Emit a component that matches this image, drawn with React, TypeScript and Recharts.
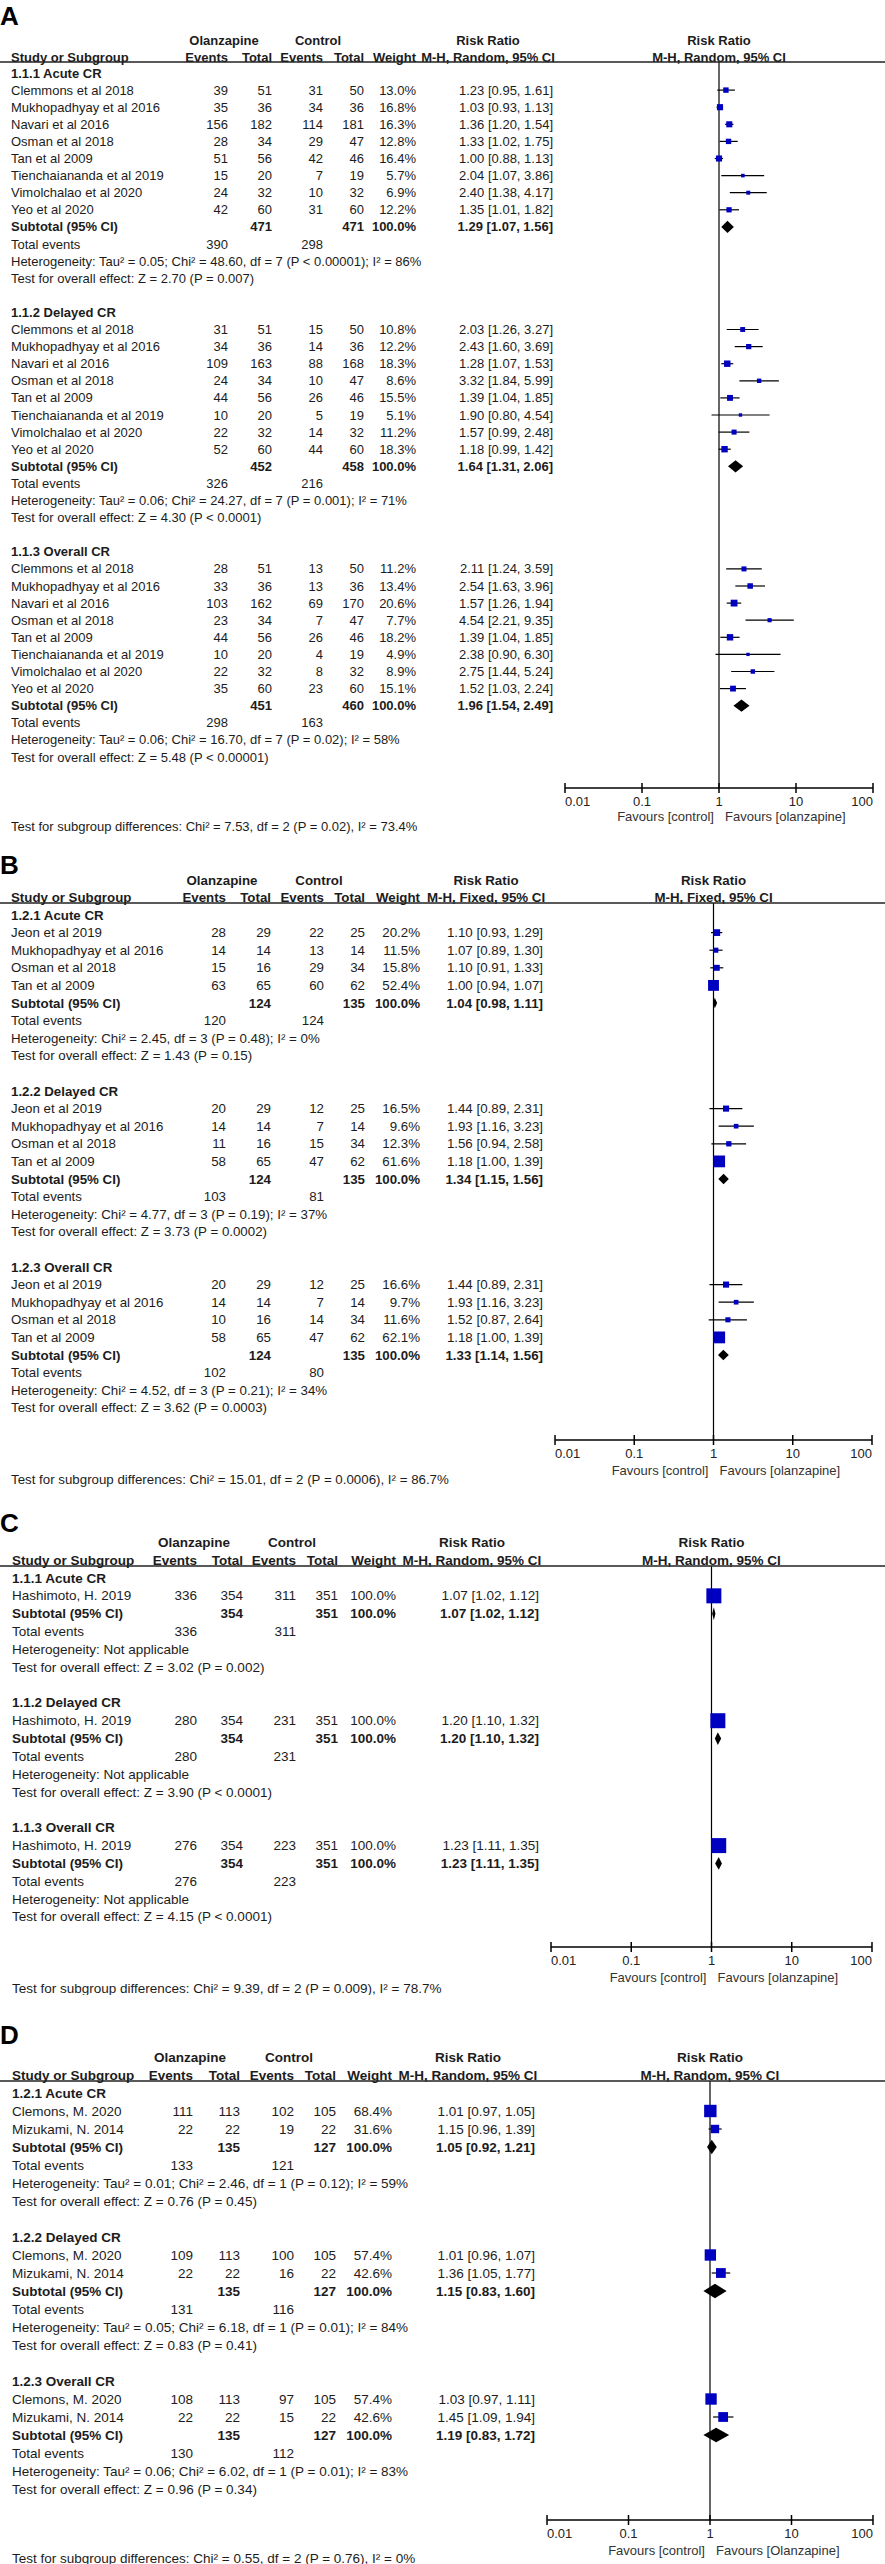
import React from "react";
import {
  ScatterChart,
  Scatter,
  XAxis,
  YAxis,
  ErrorBar,
  ReferenceLine,
  ReferenceArea,
} from "recharts";

const FONT = "Arial, 'Liberation Sans', Helvetica, sans-serif";
const INK = "#1c1c1c";
const BLUE = "#0000c0";

const RR_TICKS = [0.01, 0.1, 1, 10, 100];
const RR_TICK_LABELS = ["0.01", "0.1", "1", "10", "100"];

// study row: [olz events, olz total, ctl events, ctl total, weight %, RR, CI low, CI high]
// subtotal: [olz total, ctl total, RR, CI low, CI high]

// ---------- A ----------
const STUDIES_A = [
  "Clemmons et al 2018",
  "Mukhopadhyay et al 2016",
  "Navari et al 2016",
  "Osman et al 2018",
  "Tan et al 2009",
  "Tienchaiananda et al 2019",
  "Vimolchalao et al 2020",
  "Yeo et al 2020",
];
const GROUPS_A = ["1.1.1 Acute CR", "1.1.2 Delayed CR", "1.1.3 Overall CR"];
const ACUTE_A = [
  [39, 51, 31, 50, 13.0, 1.23, 0.95, 1.61],
  [35, 36, 34, 36, 16.8, 1.03, 0.93, 1.13],
  [156, 182, 114, 181, 16.3, 1.36, 1.2, 1.54],
  [28, 34, 29, 47, 12.8, 1.33, 1.02, 1.75],
  [51, 56, 42, 46, 16.4, 1.0, 0.88, 1.13],
  [15, 20, 7, 19, 5.7, 2.04, 1.07, 3.86],
  [24, 32, 10, 32, 6.9, 2.4, 1.38, 4.17],
  [42, 60, 31, 60, 12.2, 1.35, 1.01, 1.82],
];
const DELAYED_A = [
  [31, 51, 15, 50, 10.8, 2.03, 1.26, 3.27],
  [34, 36, 14, 36, 12.2, 2.43, 1.6, 3.69],
  [109, 163, 88, 168, 18.3, 1.28, 1.07, 1.53],
  [24, 34, 10, 47, 8.6, 3.32, 1.84, 5.99],
  [44, 56, 26, 46, 15.5, 1.39, 1.04, 1.85],
  [10, 20, 5, 19, 5.1, 1.9, 0.8, 4.54],
  [22, 32, 14, 32, 11.2, 1.57, 0.99, 2.48],
  [52, 60, 44, 60, 18.3, 1.18, 0.99, 1.42],
];
const OVERALL_A = [
  [28, 51, 13, 50, 11.2, 2.11, 1.24, 3.59],
  [33, 36, 13, 36, 13.4, 2.54, 1.63, 3.96],
  [103, 162, 69, 170, 20.6, 1.57, 1.26, 1.94],
  [23, 34, 7, 47, 7.7, 4.54, 2.21, 9.35],
  [44, 56, 26, 46, 18.2, 1.39, 1.04, 1.85],
  [10, 20, 4, 19, 4.9, 2.38, 0.9, 6.3],
  [22, 32, 8, 32, 8.9, 2.75, 1.44, 5.24],
  [35, 60, 23, 60, 15.1, 1.52, 1.03, 2.24],
];
const SUBTOTALS_A = [
  [471, 471, 1.29, 1.07, 1.56],
  [452, 458, 1.64, 1.31, 2.06],
  [451, 460, 1.96, 1.54, 2.49],
];
const TOTAL_EVENTS_A = [[390, 298], [326, 216], [298, 163]];
const HET_A = [
  "Heterogeneity: Tau² = 0.05; Chi² = 48.60, df = 7 (P < 0.00001); I² = 86%",
  "Heterogeneity: Tau² = 0.06; Chi² = 24.27, df = 7 (P = 0.001); I² = 71%",
  "Heterogeneity: Tau² = 0.06; Chi² = 16.70, df = 7 (P = 0.02); I² = 58%",
];
const EFFECT_A = [
  "Test for overall effect: Z = 2.70 (P = 0.007)",
  "Test for overall effect: Z = 4.30 (P < 0.0001)",
  "Test for overall effect: Z = 5.48 (P < 0.00001)",
];
const DIFF_A = "Test for subgroup differences: Chi² = 7.53, df = 2 (P = 0.02), I² = 73.4%";

// ---------- B ----------
const STUDIES_B = ["Jeon et al 2019", "Mukhopadhyay et al 2016", "Osman et al 2018", "Tan et al 2009"];
const GROUPS_B = ["1.2.1 Acute CR", "1.2.2 Delayed CR", "1.2.3 Overall CR"];
const ACUTE_B = [
  [28, 29, 22, 25, 20.2, 1.1, 0.93, 1.29],
  [14, 14, 13, 14, 11.5, 1.07, 0.89, 1.3],
  [15, 16, 29, 34, 15.8, 1.1, 0.91, 1.33],
  [63, 65, 60, 62, 52.4, 1.0, 0.94, 1.07],
];
const DELAYED_B = [
  [20, 29, 12, 25, 16.5, 1.44, 0.89, 2.31],
  [14, 14, 7, 14, 9.6, 1.93, 1.16, 3.23],
  [11, 16, 15, 34, 12.3, 1.56, 0.94, 2.58],
  [58, 65, 47, 62, 61.6, 1.18, 1.0, 1.39],
];
const OVERALL_B = [
  [20, 29, 12, 25, 16.6, 1.44, 0.89, 2.31],
  [14, 14, 7, 14, 9.7, 1.93, 1.16, 3.23],
  [10, 16, 14, 34, 11.6, 1.52, 0.87, 2.64],
  [58, 65, 47, 62, 62.1, 1.18, 1.0, 1.39],
];
const SUBTOTALS_B = [
  [124, 135, 1.04, 0.98, 1.11],
  [124, 135, 1.34, 1.15, 1.56],
  [124, 135, 1.33, 1.14, 1.56],
];
const TOTAL_EVENTS_B = [[120, 124], [103, 81], [102, 80]];
const HET_B = [
  "Heterogeneity: Chi² = 2.45, df = 3 (P = 0.48); I² = 0%",
  "Heterogeneity: Chi² = 4.77, df = 3 (P = 0.19); I² = 37%",
  "Heterogeneity: Chi² = 4.52, df = 3 (P = 0.21); I² = 34%",
];
const EFFECT_B = [
  "Test for overall effect: Z = 1.43 (P = 0.15)",
  "Test for overall effect: Z = 3.73 (P = 0.0002)",
  "Test for overall effect: Z = 3.62 (P = 0.0003)",
];
const DIFF_B = "Test for subgroup differences: Chi² = 15.01, df = 2 (P = 0.0006), I² = 86.7%";

// ---------- C ----------
const STUDIES_C = ["Hashimoto, H. 2019"];
const GROUPS_C = ["1.1.1 Acute CR", "1.1.2 Delayed CR", "1.1.3 Overall CR"];
const ACUTE_C = [[336, 354, 311, 351, 100.0, 1.07, 1.02, 1.12]];
const DELAYED_C = [[280, 354, 231, 351, 100.0, 1.2, 1.1, 1.32]];
const OVERALL_C = [[276, 354, 223, 351, 100.0, 1.23, 1.11, 1.35]];
const SUBTOTALS_C = [
  [354, 351, 1.07, 1.02, 1.12],
  [354, 351, 1.2, 1.1, 1.32],
  [354, 351, 1.23, 1.11, 1.35],
];
const TOTAL_EVENTS_C = [[336, 311], [280, 231], [276, 223]];
const HET_C = [
  "Heterogeneity: Not applicable",
  "Heterogeneity: Not applicable",
  "Heterogeneity: Not applicable",
];
const EFFECT_C = [
  "Test for overall effect: Z = 3.02 (P = 0.002)",
  "Test for overall effect: Z = 3.90 (P < 0.0001)",
  "Test for overall effect: Z = 4.15 (P < 0.0001)",
];
const DIFF_C = "Test for subgroup differences: Chi² = 9.39, df = 2 (P = 0.009), I² = 78.7%";

// ---------- D ----------
const STUDIES_D = ["Clemons, M. 2020", "Mizukami, N. 2014"];
const GROUPS_D = ["1.2.1 Acute CR", "1.2.2 Delayed CR", "1.2.3 Overall CR"];
const ACUTE_D = [
  [111, 113, 102, 105, 68.4, 1.01, 0.97, 1.05],
  [22, 22, 19, 22, 31.6, 1.15, 0.96, 1.39],
];
const DELAYED_D = [
  [109, 113, 100, 105, 57.4, 1.01, 0.96, 1.07],
  [22, 22, 16, 22, 42.6, 1.36, 1.05, 1.77],
];
const OVERALL_D = [
  [108, 113, 97, 105, 57.4, 1.03, 0.97, 1.11],
  [22, 22, 15, 22, 42.6, 1.45, 1.09, 1.94],
];
const SUBTOTALS_D = [
  [135, 127, 1.05, 0.92, 1.21],
  [135, 127, 1.15, 0.83, 1.6],
  [135, 127, 1.19, 0.83, 1.72],
];
const TOTAL_EVENTS_D = [[133, 121], [131, 116], [130, 112]];
const HET_D = [
  "Heterogeneity: Tau² = 0.01; Chi² = 2.46, df = 1 (P = 0.12); I² = 59%",
  "Heterogeneity: Tau² = 0.05; Chi² = 6.18, df = 1 (P = 0.01); I² = 84%",
  "Heterogeneity: Tau² = 0.06; Chi² = 6.02, df = 1 (P = 0.01); I² = 83%",
];
const EFFECT_D = [
  "Test for overall effect: Z = 0.76 (P = 0.45)",
  "Test for overall effect: Z = 0.83 (P = 0.41)",
  "Test for overall effect: Z = 0.96 (P = 0.34)",
];
const DIFF_D = "Test for subgroup differences: Chi² = 0.55, df = 2 (P = 0.76), I² = 0%";

const PANELS = [
  {
    letter: "A", method: "M-H, Random, 95% CI", favRight: "Favours [olanzapine]",
    studies: STUDIES_A, groups: GROUPS_A, rows: [ACUTE_A, DELAYED_A, OVERALL_A],
    subtotals: SUBTOTALS_A, totals: TOTAL_EVENTS_A, het: HET_A, effect: EFFECT_A, diff: DIFF_A,
  },
  {
    letter: "B", method: "M-H, Fixed, 95% CI", favRight: "Favours [olanzapine]",
    studies: STUDIES_B, groups: GROUPS_B, rows: [ACUTE_B, DELAYED_B, OVERALL_B],
    subtotals: SUBTOTALS_B, totals: TOTAL_EVENTS_B, het: HET_B, effect: EFFECT_B, diff: DIFF_B,
  },
  {
    letter: "C", method: "M-H, Random, 95% CI", favRight: "Favours [olanzapine]",
    studies: STUDIES_C, groups: GROUPS_C, rows: [ACUTE_C, DELAYED_C, OVERALL_C],
    subtotals: SUBTOTALS_C, totals: TOTAL_EVENTS_C, het: HET_C, effect: EFFECT_C, diff: DIFF_C,
  },
  {
    letter: "D", method: "M-H, Random, 95% CI", favRight: "Favours [Olanzapine]",
    studies: STUDIES_D, groups: GROUPS_D, rows: [ACUTE_D, DELAYED_D, OVERALL_D],
    subtotals: SUBTOTALS_D, totals: TOTAL_EVENTS_D, het: HET_D, effect: EFFECT_D, diff: DIFF_D,
  },
];

// layout (pixels inside each panel)
const LAYOUTS = [
  {
    top: 0, height: 840, fs: 13, letterY: 16, head1Y: 40, head2Y: 57, ruleY: 62,
    firstRowY: 73, rowH: 17.1, axisY: 788, favY: 816, diffY: 826, x001: 565, x100: 873, diamondH: 0.36,
    cols: { label: 11, olzEv: 228, olzN: 272, ctlEv: 323, ctlN: 364, weight: 416, ci: 553, olzHead: 224, ctlHead: 318, ciHead: 488 },
  },
  {
    top: 840, height: 650, fs: 13.3, letterY: 25, head1Y: 40, head2Y: 57, ruleY: 63,
    firstRowY: 75, rowH: 17.6, axisY: 600, favY: 630, diffY: 639, x001: 555, x100: 872, diamondH: 0.3,
    cols: { label: 11, olzEv: 226, olzN: 271, ctlEv: 324, ctlN: 365, weight: 420, ci: 543, olzHead: 222, ctlHead: 319, ciHead: 486 },
  },
  {
    top: 1490, height: 505, fs: 13.5, letterY: 33, head1Y: 52, head2Y: 70, ruleY: 76,
    firstRowY: 88, rowH: 17.84, axisY: 457, favY: 487, diffY: 498, x001: 551, x100: 872, diamondH: 0.36,
    cols: { label: 12, olzEv: 197, olzN: 243, ctlEv: 296, ctlN: 338, weight: 396, ci: 539, olzHead: 194, ctlHead: 292, ciHead: 472 },
  },
  {
    top: 1995, height: 569, fs: 13.5, letterY: 40, head1Y: 62, head2Y: 80, ruleY: 86,
    firstRowY: 98, rowH: 18, axisY: 525, favY: 555, diffY: 563, x001: 547, x100: 873, diamondH: 0.4,
    cols: { label: 12, olzEv: 193, olzN: 240, ctlEv: 294, ctlN: 336, weight: 392, ci: 535, olzHead: 190, ctlHead: 289, ciHead: 468 },
  },
];

const fmtCI = (rr: number, lo: number, hi: number) =>
  `${rr.toFixed(2)} [${lo.toFixed(2)}, ${hi.toFixed(2)}]`;

function buildRows(p: any) {
  const rows: any[] = [];
  p.groups.forEach((g: string, gi: number) => {
    rows.push({ kind: "group", text: g });
    p.rows[gi].forEach((v: number[], si: number) => rows.push({ kind: "study", name: p.studies[si], v }));
    rows.push({ kind: "subtotal", v: p.subtotals[gi] });
    rows.push({ kind: "total", v: p.totals[gi] });
    rows.push({ kind: "text", text: p.het[gi] });
    rows.push({ kind: "text", text: p.effect[gi] });
    if (gi < p.groups.length - 1) rows.push({ kind: "blank" });
  });
  return rows;
}

function T({ x, y, anchor = "start", bold = false, size, children, fill = INK }: any) {
  return (
    <text x={x} y={y} textAnchor={anchor} dominantBaseline="central" fontFamily={FONT}
      fontSize={size} fontWeight={bold ? "bold" : "normal"} fill={fill}>
      {children}
    </text>
  );
}

function RowTick({ y, payload, rows, L }: any) {
  const r = rows[payload.value];
  if (!r) return null;
  const c = L.cols;
  const fs = L.fs;
  if (r.kind === "group") return <T x={c.label} y={y} size={fs} bold>{r.text}</T>;
  if (r.kind === "text") return <T x={c.label} y={y} size={fs}>{r.text}</T>;
  if (r.kind === "total") {
    return (
      <g>
        <T x={c.label} y={y} size={fs}>Total events</T>
        <T x={c.olzEv} y={y} size={fs} anchor="end">{r.v[0]}</T>
        <T x={c.ctlEv} y={y} size={fs} anchor="end">{r.v[1]}</T>
      </g>
    );
  }
  if (r.kind === "subtotal") {
    return (
      <g>
        <T x={c.label} y={y} size={fs} bold>Subtotal (95% CI)</T>
        <T x={c.olzN} y={y} size={fs} anchor="end" bold>{r.v[0]}</T>
        <T x={c.ctlN} y={y} size={fs} anchor="end" bold>{r.v[1]}</T>
        <T x={c.weight} y={y} size={fs} anchor="end" bold>100.0%</T>
        <T x={c.ci} y={y} size={fs} anchor="end" bold>{fmtCI(r.v[2], r.v[3], r.v[4])}</T>
      </g>
    );
  }
  if (r.kind === "study") {
    const v = r.v;
    return (
      <g>
        <T x={c.label} y={y} size={fs}>{r.name}</T>
        <T x={c.olzEv} y={y} size={fs} anchor="end">{v[0]}</T>
        <T x={c.olzN} y={y} size={fs} anchor="end">{v[1]}</T>
        <T x={c.ctlEv} y={y} size={fs} anchor="end">{v[2]}</T>
        <T x={c.ctlN} y={y} size={fs} anchor="end">{v[3]}</T>
        <T x={c.weight} y={y} size={fs} anchor="end">{v[4].toFixed(1)}%</T>
        <T x={c.ci} y={y} size={fs} anchor="end">{fmtCI(v[5], v[6], v[7])}</T>
      </g>
    );
  }
  return null;
}

function XTick({ x, y, payload }: any) {
  const i = RR_TICKS.indexOf(payload.value);
  const anchor = i === 0 ? "start" : i === RR_TICKS.length - 1 ? "end" : "middle";
  return (
    <g>
      <line x1={x} x2={x} y1={y - 5} y2={y + 5} stroke="#000" strokeWidth={1.5} />
      <T x={x} y={y + 13} size={13} anchor={anchor} fill="#222">{RR_TICK_LABELS[i]}</T>
    </g>
  );
}

function Square({ cx, cy, payload }: any) {
  if (cx == null || cy == null) return null;
  const s = 1.5 * Math.sqrt(payload.w);
  return <rect x={cx - s / 2} y={cy - s / 2} width={s} height={s} fill={BLUE} />;
}

function Diamond({ x, y, width, height, d }: any) {
  const f = Math.log(d.rr / d.lo) / Math.log(d.hi / d.lo);
  const cx = x + f * width;
  const cy = y + height / 2;
  return (
    <polygon
      points={`${x},${cy} ${cx},${y} ${x + width},${cy} ${cx},${y + height}`}
      fill="#000"
    />
  );
}

function ForestPanel({ p, L }: any) {
  const rows = buildRows(p);
  const points: any[] = [];
  const diamonds: any[] = [];
  rows.forEach((r, i) => {
    if (r.kind === "study") {
      const [, , , , w, rr, lo, hi] = r.v;
      points.push({ x: rr, y: i, w, err: [rr - lo, hi - rr] });
    } else if (r.kind === "subtotal") {
      diamonds.push({ y: i, rr: r.v[2], lo: r.v[3], hi: r.v[4] });
    }
  });
  const tickRows = rows.map((r, i) => (r.kind === "blank" ? -1 : i)).filter((i) => i >= 0);
  const yMin = (L.ruleY - L.firstRowY) / L.rowH;
  const yMax = (L.axisY - L.firstRowY) / L.rowH;
  const xOne = (L.x001 + L.x100) / 2;
  const c = L.cols;
  const fs = L.fs;

  return (
    <div style={{ position: "absolute", left: 0, top: L.top, width: 885, height: L.height }}>
      <ScatterChart
        width={885}
        height={L.height}
        margin={{ top: L.ruleY, right: 885 - L.x100, bottom: 0, left: L.x001 - 10 }}
      >
        <XAxis
          type="number"
          dataKey="x"
          scale="log"
          domain={[0.01, 100]}
          ticks={RR_TICKS}
          allowDataOverflow
          interval={0}
          height={L.height - L.axisY}
          tickSize={0}
          tickMargin={0}
          tickLine={false}
          axisLine={{ stroke: "#000", strokeWidth: 1.5 }}
          tick={<XTick />}
        />
        <YAxis
          type="number"
          dataKey="y"
          reversed
          domain={[yMin, yMax]}
          allowDataOverflow
          width={10}
          ticks={tickRows}
          interval={0}
          axisLine={false}
          tickLine={false}
          tick={(props: any) => <RowTick {...props} rows={rows} L={L} />}
        />
        <ReferenceLine x={1} stroke="#000" strokeWidth={1.2} />
        {diamonds.map((d, k) => (
          <ReferenceArea
            key={k}
            x1={d.lo}
            x2={d.hi}
            y1={d.y - L.diamondH}
            y2={d.y + L.diamondH}
            fill="#000"
            fillOpacity={1}
            stroke="none"
            shape={(s: any) => <Diamond {...s} d={d} />}
          />
        ))}
        <Scatter data={points} isAnimationActive={false} shape={<Square />}>
          <ErrorBar
            dataKey="err"
            direction="x"
            width={0}
            stroke="#000"
            strokeWidth={1.2}
            isAnimationActive={false}
          />
        </Scatter>
      </ScatterChart>

      <svg
        width={885}
        height={L.height}
        style={{ position: "absolute", left: 0, top: 0, pointerEvents: "none" }}
      >
        <T x={0} y={L.letterY} size={26} bold fill="#000">{p.letter}</T>
        <T x={c.olzHead} y={L.head1Y} size={fs} anchor="middle" bold>Olanzapine</T>
        <T x={c.ctlHead} y={L.head1Y} size={fs} anchor="middle" bold>Control</T>
        <T x={c.ciHead} y={L.head1Y} size={fs} anchor="middle" bold>Risk Ratio</T>
        <T x={xOne} y={L.head1Y} size={fs} anchor="middle" bold>Risk Ratio</T>
        <T x={c.label} y={L.head2Y} size={fs} bold>Study or Subgroup</T>
        <T x={c.olzEv} y={L.head2Y} size={fs} anchor="end" bold>Events</T>
        <T x={c.olzN} y={L.head2Y} size={fs} anchor="end" bold>Total</T>
        <T x={c.ctlEv} y={L.head2Y} size={fs} anchor="end" bold>Events</T>
        <T x={c.ctlN} y={L.head2Y} size={fs} anchor="end" bold>Total</T>
        <T x={c.weight} y={L.head2Y} size={fs} anchor="end" bold>Weight</T>
        <T x={c.ciHead} y={L.head2Y} size={fs} anchor="middle" bold>{p.method}</T>
        <T x={xOne} y={L.head2Y} size={fs} anchor="middle" bold>{p.method}</T>
        <line x1={0} x2={885} y1={L.ruleY} y2={L.ruleY} stroke="#222" strokeWidth={1.5} />
        <T x={xOne - 5} y={L.favY} size={13} anchor="end" fill="#333">Favours [control]</T>
        <T x={xOne + 6} y={L.favY} size={13} fill="#333">{p.favRight}</T>
        <T x={c.label} y={L.diffY} size={fs}>{p.diff}</T>
      </svg>
    </div>
  );
}

export default function App() {
  return (
    <div style={{ position: "absolute", left: 0, top: 0, width: 885, height: 2564, background: "#fff" }}>
      {PANELS.map((p, i) => (
        <ForestPanel key={p.letter} p={p} L={LAYOUTS[i]} />
      ))}
    </div>
  );
}
